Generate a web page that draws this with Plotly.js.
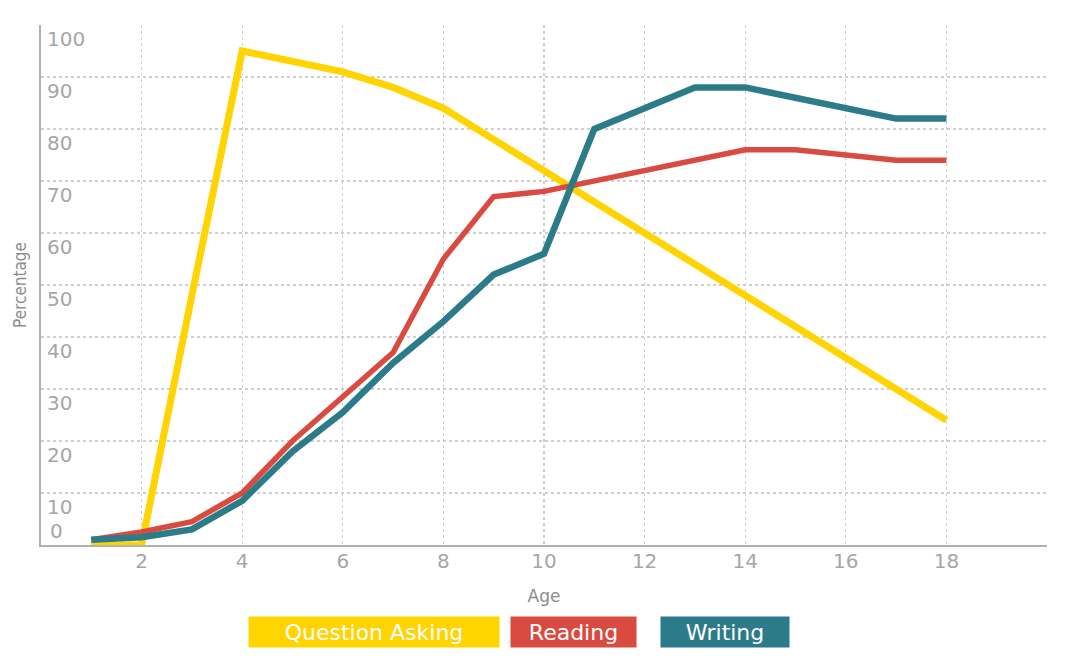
<!DOCTYPE html>
<html>
<head>
<meta charset="utf-8">
<script src="https://cdn.plot.ly/plotly-3.0.1.min.js"></script>
<style>html,body{margin:0;padding:0;background:#fff;}#chart{width:1066px;height:662px;}</style>
</head>
<body>
<div id="chart"></div>
<script>
const ages = [1,2,3,4,5,6,7,8,9,10,11,12,13,14,15,16,17,18];
const questionAsking = [0,0,48,95,93,91,88,84,78,72,66,60,54,48,42,36,30,24];
const reading = [1,2.5,4.5,10,20,28.5,37,55,67,68,70,72,74,76,76,75,74,74];
const writing = [1,1.5,3,8.5,18,25.5,35,43,52,56,80,84,88,88,86,84,82,82];
const seriesNames = ["Question Asking","Reading","Writing"];
const xTickVals = [2,4,6,8,10,12,14,16,18,20];
const xTickText = ["2","4","6","8","10","12","14","16","18",""];
const yTickVals = [10,20,30,40,50,60,70,80,90,100];
const yTickText = ["10","20","30","40","50","60","70","80","90","100"];
const yZeroVals = [0];
const yZeroText = ["0"];

const colors = ["#FFD400","#D94B40","#2C7B89"];
const widths = [7,5.5,6.5];
const seriesData = [questionAsking, reading, writing];

const traces = seriesData.map((vals,i)=>({
  x: ages, y: vals, type:"scatter", mode:"lines", name: seriesNames[i],
  line:{color:colors[i], width:widths[i], shape:"linear"},
  cliponaxis:false, hoverinfo:"x+y+name"
}));
// empty trace so the overlaid axis carrying the "0" label is drawn
traces.push({x:[], y:[], type:"scatter", mode:"lines", yaxis:"y2", showlegend:false, hoverinfo:"skip"});

const tickFont = {family:"DejaVu Sans, Open Sans, sans-serif", size:20, color:"#a6a6a6"};
const boxes = [
  {cx:374, w:250},
  {cx:573, w:125},
  {cx:725, w:128}
];
const plotL = 41, plotR = 1047, plotT = 25, plotB = 545;
const annotations = seriesNames.map((n,i)=>({
  text:n, xref:"paper", yref:"paper",
  x:(boxes[i].cx-plotL)/(plotR-plotL), y:(plotB-632)/(plotB-plotT),
  xanchor:"center", yanchor:"middle", showarrow:false,
  bgcolor:colors[i], width:boxes[i].w, height:30, borderpad:0, align:"center",
  font:{family:"DejaVu Sans, Open Sans, sans-serif", size:22, color:"#ffffff"}
}));

const layout = {
  width:1066, height:662, autosize:false,
  margin:{l:plotL, r:1066-plotR, t:plotT, b:662-plotB, pad:0},
  paper_bgcolor:"#ffffff", plot_bgcolor:"#ffffff",
  showlegend:false,
  xaxis:{
    range:[0,20], tickmode:"array", tickvals:xTickVals, ticktext:xTickText,
    showgrid:true, gridcolor:"#cfcfcf", griddash:"dot", gridwidth:1.3,
    zeroline:false, showline:true, linecolor:"#b0b0b0", linewidth:2,
    ticks:"", tickfont:tickFont, ticklabelstandoff:-3,
    title:{text:"Age", font:{family:"DejaVu Sans, Open Sans, sans-serif", size:17, color:"#8c8c8c"}, standoff:18},
    fixedrange:true
  },
  yaxis:{
    range:[0,100], tickmode:"array", tickvals:yTickVals, ticktext:yTickText,
    showgrid:true, gridcolor:"#cfcfcf", griddash:"dot", gridwidth:1.3,
    zeroline:false, showline:true, linecolor:"#b0b0b0", linewidth:2,
    ticks:"", tickfont:tickFont, ticklabelposition:"inside bottom", ticklabeloverflow:"allow",
    ticklabelstandoff:6,
    title:{text:"Percentage", font:{family:"DejaVu Sans Condensed, Liberation Sans Narrow, sans-serif", size:17, color:"#8c8c8c"}, standoff:16},
    fixedrange:true
  },
  yaxis2:{
    overlaying:"y", side:"left", range:[0,100], tickmode:"array", tickvals:yZeroVals, ticktext:yZeroText,
    showgrid:false, zeroline:false, showline:false, ticks:"",
    tickfont:tickFont, ticklabelposition:"inside top", ticklabeloverflow:"allow", ticklabelstandoff:6,
    fixedrange:true
  },
  annotations: annotations
};

Plotly.newPlot("chart", traces, layout, {displayModeBar:false, staticPlot:true});
</script>
</body>
</html>
